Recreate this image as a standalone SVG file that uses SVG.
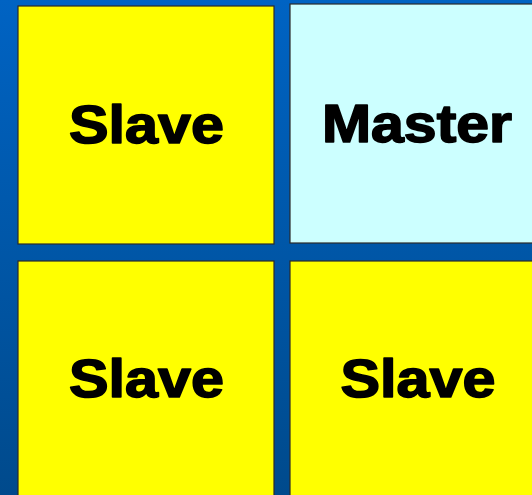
<svg xmlns="http://www.w3.org/2000/svg" width="532" height="495" viewBox="0 0 532 495">
<defs>
<linearGradient id="bg" x1="0" y1="0" x2="0" y2="1">
<stop offset="0" stop-color="#0063c3"/>
<stop offset="1" stop-color="#004a8c"/>
</linearGradient>
<style>
.box{stroke:#2a2a2a;stroke-width:1.2}
.slave{fill:#ffff00}
.master{fill:#ccffff}
.lbl{font-family:"Liberation Sans",Arial,sans-serif;font-weight:bold;font-size:53px;fill:#000;stroke:#000;stroke-width:1.6;stroke-linejoin:round;text-anchor:middle}
</style>
</defs>
<rect x="0" y="0" width="532" height="495" fill="url(#bg)"/>
<g id="slave-top-left">
<rect class="box slave" x="18" y="6" width="256" height="238"/>
<text class="lbl" x="146.5" y="143" textLength="155" lengthAdjust="spacingAndGlyphs">Slave</text>
</g>
<g id="master-top-right">
<rect class="box master" x="290" y="4" width="256" height="239"/>
<text class="lbl" x="417" y="141.5" textLength="190" lengthAdjust="spacingAndGlyphs">Master</text>
</g>
<g id="slave-bottom-left">
<rect class="box slave" x="18" y="261" width="256" height="250"/>
<text class="lbl" x="146.5" y="397" textLength="155" lengthAdjust="spacingAndGlyphs">Slave</text>
</g>
<g id="slave-bottom-right">
<rect class="box slave" x="290" y="261" width="256" height="250"/>
<text class="lbl" x="418" y="397" textLength="155" lengthAdjust="spacingAndGlyphs">Slave</text>
</g>
<g id="connectors"/>
</svg>
